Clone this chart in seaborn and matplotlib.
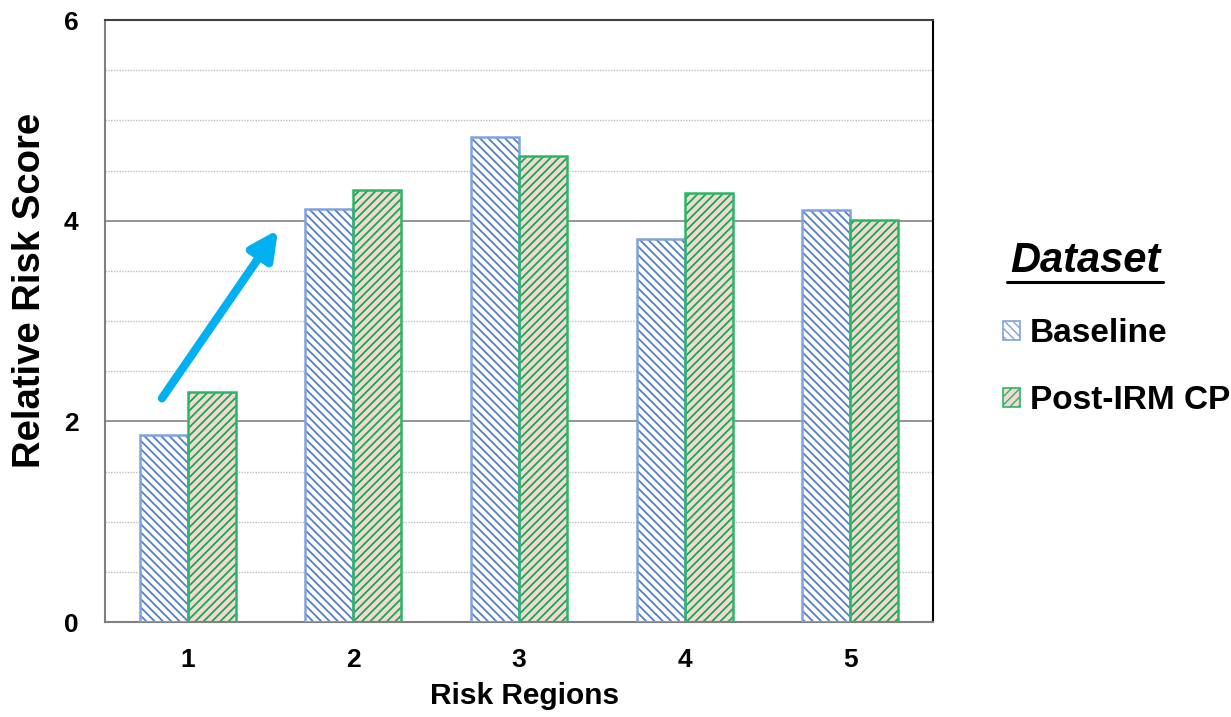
import matplotlib
matplotlib.use("Agg")
import matplotlib.pyplot as plt
import matplotlib.patches as mpatches
from matplotlib.lines import Line2D
from matplotlib.ticker import MultipleLocator
import numpy as np
import pandas as pd
import seaborn as sns

# Data
regions = ["1", "2", "3", "4", "5"]
baseline = [1.86, 4.12, 4.83, 3.82, 4.11]
post_irm = [2.29, 4.31, 4.64, 4.28, 4.01]
series = ["Baseline", "Post-IRM CP"]

df = pd.DataFrame({
    "Risk Regions": regions * 2,
    "Score": baseline + post_irm,
    "Dataset": [series[0]] * len(regions) + [series[1]] * len(regions),
})

sns.set_theme(style="white")
plt.rcParams["font.family"] = ["Liberation Sans", "DejaVu Sans"]
plt.rcParams["hatch.linewidth"] = 1.3
for key in ["text.color", "axes.labelcolor", "xtick.color", "ytick.color"]:
    plt.rcParams[key] = "black"

fig = plt.figure(figsize=(12.31, 7.17), dpi=100)
ax = fig.add_axes([105 / 1231, 1 - 622 / 717, (933 - 105) / 1231, (622 - 20) / 717])

styles = {
    "Baseline": dict(face="#FFFFFF", edge="#7FA3DC", hatch_col="#5580C6", hatch="\\\\\\\\"),
    "Post-IRM CP": dict(face="#F5D8D4", edge="#2DB566", hatch_col="#14AA50", hatch="////"),
}

sns.barplot(data=df, x="Risk Regions", y="Score", hue="Dataset", order=regions,
            hue_order=series, width=0.58, dodge=True, legend=False, ax=ax,
            palette=["white", "white"], saturation=1)

n = len(regions)
for i, p in enumerate(ax.patches[: 2 * n]):
    st = styles[series[i // n]]
    p.set_facecolor(st["face"])
    p.set_hatch(st["hatch"])
    p.set_edgecolor(st["hatch_col"])
    p.set_linewidth(0)
    # outline drawn separately so hatch and border can differ
    ax.add_patch(mpatches.Rectangle(p.get_xy(), p.get_width(), p.get_height(),
                                    fill=False, edgecolor=st["edge"], linewidth=1.8, zorder=3))

ax.set_ylim(0, 6)
ax.set_xlim(-0.5, n - 0.5)
ax.yaxis.set_major_locator(MultipleLocator(2))
ax.yaxis.set_minor_locator(MultipleLocator(0.5))
ax.grid(axis="y", which="major", color="#8C8C8C", linewidth=1.3, linestyle="-")
ax.grid(axis="y", which="minor", color="#BDBDBD", linewidth=1.0, linestyle=(0, (1, 1)))
ax.set_axisbelow(True)

ax.set_xticks(range(n))
ax.set_xticks(np.arange(-0.5, n, 1.0), minor=True)
ax.tick_params(axis="x", which="major", length=0, pad=19, labelsize=19)
ax.tick_params(axis="x", which="minor", length=10, width=1.3, color="#808080", direction="out")
ax.tick_params(axis="y", which="both", length=0, pad=19, labelsize=19)
for lab in ax.get_xticklabels() + ax.get_yticklabels():
    lab.set_fontweight("bold")

ax.set_xlabel("Risk Regions", fontsize=21.5, fontweight="bold")
ax.set_ylabel("Relative Risk Score", fontsize=27.5, fontweight="bold")
ax.xaxis.label.set_va("center")
ax.yaxis.label.set_va("center")
ax.xaxis.set_label_coords((525 - 105) / 828, (622 - 696) / 602)
ax.yaxis.set_label_coords((30 - 105) / 828, (622 - 290) / 602)

for side in ["left", "bottom"]:
    ax.spines[side].set_color("#808080")
    ax.spines[side].set_linewidth(1.5)
ax.spines["top"].set_color("#404040")
ax.spines["top"].set_linewidth(1.5)
ax.spines["right"].set_color("black")
ax.spines["right"].set_linewidth(1.5)

# Trend arrow
ax.annotate("", xy=(0.545, 3.91), xytext=(-0.156, 2.23),
            arrowprops=dict(arrowstyle="-|>,head_length=1.4,head_width=0.7",
                            color="#00B0F0", lw=6, shrinkA=0, shrinkB=0))

# Legend with underlined title
fig.text(1085 / 1231, 1 - 272 / 717, "Dataset", fontsize=30, fontweight="bold",
         fontstyle="italic", ha="center", va="baseline")
fig.add_artist(Line2D([1007 / 1231, 1163 / 1231], [1 - 282 / 717, 1 - 282 / 717],
                      color="black", linewidth=2.2))

handles = [mpatches.Patch(facecolor=styles[s]["face"], edgecolor=styles[s]["edge"],
                          hatch=styles[s]["hatch"], linewidth=1.2) for s in series]
plt.rcParams["hatch.linewidth"] = 1.0
leg = fig.legend(handles, series, loc="upper left",
                 bbox_to_anchor=(1003 / 1231, 1 - 318 / 717), frameon=False,
                 prop=dict(size=24, weight="bold"), handlelength=0.5, handleheight=0.5,
                 handletextpad=0.3, labelspacing=1.08, borderpad=0, borderaxespad=0)

fig.savefig("out.png", dpi=100)
